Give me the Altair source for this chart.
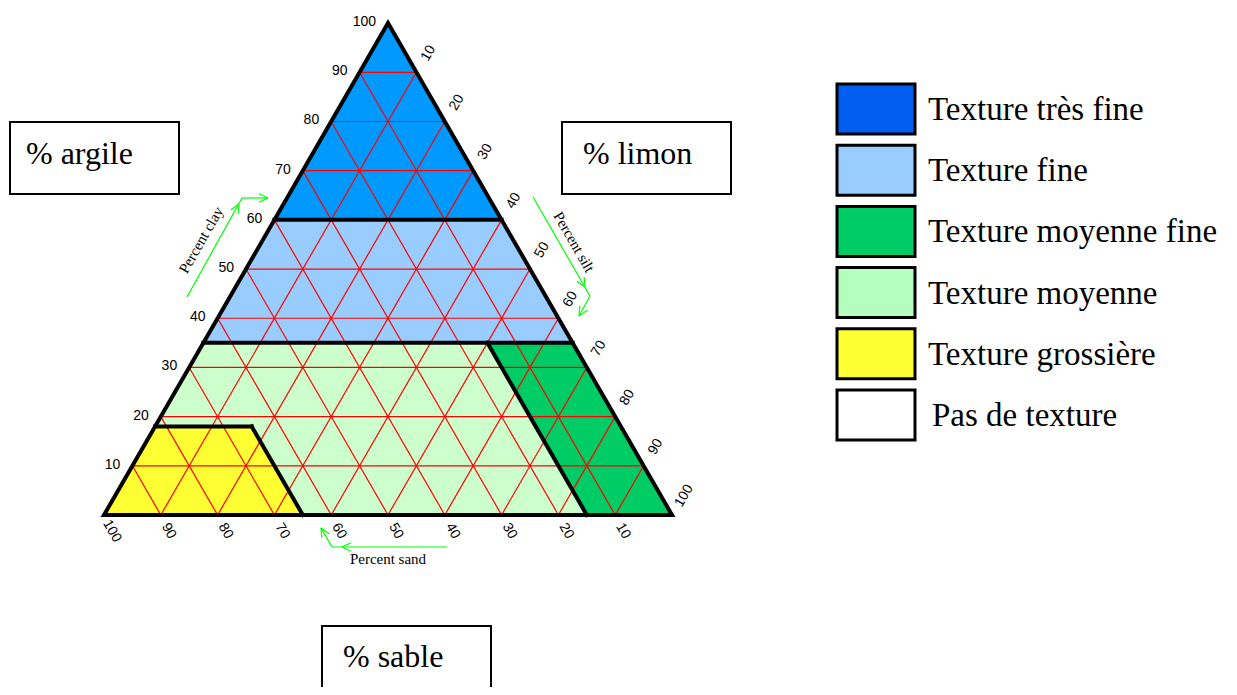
import math
import altair as alt
import pandas as pd

# ------------------------------------------------------------------ data
# texture classes (legend order) and their swatch colours
CLASS_LABELS = ["Texture très fine", "Texture fine", "Texture moyenne fine",
                "Texture moyenne", "Texture grossière", "Pas de texture"]
LEGEND_COLORS = ["#005EF0", "#99CCFF", "#00CC66", "#B4FFBE", "#FFFF33", "#FFFFFF"]

# regions in the triangle, vertices as (clay %, silt %), drawn in this order
REGION_NAMES = ["très fine", "fine", "moyenne", "moyenne fine", "grossière"]
REGION_COLORS = ["#0099FF", "#99CCFF", "#CCFFCC", "#00CC66", "#FFFF33"]
REGION_VERTICES = [
    [(60, 0), (100, 0), (60, 40)],
    [(35, 0), (60, 0), (60, 40), (35, 65)],
    [(0, 0), (35, 0), (35, 65), (0, 100)],
    [(35, 50), (35, 65), (0, 100), (0, 85)],
    [(0, 0), (18, 0), (18, 17), (0, 35)],
]
# thick class boundaries, (clay, silt) -> (clay, silt)
BOUNDARIES = [
    ((60, 0), (60, 40)),
    ((35, 0), (35, 65)),
    ((18, 0), (18, 17)),
    ((18, 17), (0, 35)),
    ((35, 50), (0, 85)),
]
# outline of the triangle, starting mid-bottom so that every corner is a join
OUTLINE = [(0, 50), (0, 100), (100, 0), (0, 0), (0, 50)]

GRID_STEPS = [10, 20, 30, 40, 50, 60, 70, 80, 90]
CLAY_TICKS = [10, 20, 30, 40, 50, 60, 70, 80, 90, 100]
SILT_TICKS = [10, 20, 30, 40, 50, 60, 70, 80, 90, 100]
SAND_TICKS = [100, 90, 80, 70, 60, 50, 40, 30, 20, 10]

AXIS_TITLES = ["Percent clay", "Percent silt", "Percent sand"]
BOX_LABELS = ["% argile", "% limon", "% sable"]

# ------------------------------------------------------------------ layout
S = 5.68                      # pixels per percent
LEFT_PX, BASE_PX = 104, 515   # page position of the 100 % sand corner
W, H = 1221, 679
SQ = math.sqrt(3) / 2
SERIF = "Liberation Serif, Times New Roman, serif"

X0 = -(LEFT_PX - 8) / S
X1 = X0 + W / S
Y1 = (BASE_PX - 8) / S
Y0 = Y1 - H / S


def tern(clay, silt):
    return silt + clay / 2.0, clay * SQ


def pg(px, py):
    """page pixel -> data units"""
    return (px - LEFT_PX) / S, (BASE_PX - py) / S


xs = alt.Scale(domain=[X0, X1], nice=False, zero=False)
ys = alt.Scale(domain=[Y0, Y1], nice=False, zero=False)


def X(f="x"):
    return alt.X(f"{f}:Q", scale=xs, axis=None)


def Y(f="y"):
    return alt.Y(f"{f}:Q", scale=ys, axis=None)


def vertical_spans(poly):
    pts = [tern(c, s) for c, s in poly]
    xv = sorted(set(round(p[0], 9) for p in pts))
    rows = []
    n = len(pts)
    for x in xv:
        yy = []
        for i in range(n):
            (x1, y1), (x2, y2) = pts[i], pts[(i + 1) % n]
            if min(x1, x2) - 1e-9 <= x <= max(x1, x2) + 1e-9:
                if abs(x2 - x1) < 1e-9:
                    yy += [y1, y2]
                else:
                    t = (x - x1) / (x2 - x1)
                    yy.append(y1 + t * (y2 - y1))
        rows.append(dict(x=x, lo=min(yy), hi=max(yy)))
    return pd.DataFrame(rows)


layers = []

# region fills
for name, col, verts in zip(REGION_NAMES, REGION_COLORS, REGION_VERTICES):
    df = vertical_spans(verts)
    layers.append(
        alt.Chart(df).mark_area(color=col, opacity=1, interpolate="linear")
        .encode(x=X("x"), y=alt.Y("hi:Q", scale=ys, axis=None, stack=None),
                y2="lo:Q")
    )

# red grid
seg = []
for k in GRID_STEPS:
    a, b = tern(k, 0), tern(k, 100 - k)            # clay = k
    seg.append(dict(x=a[0], y=a[1], x2=b[0], y2=b[1]))
    a, b = tern(0, k), tern(100 - k, k)            # silt = k
    seg.append(dict(x=a[0], y=a[1], x2=b[0], y2=b[1]))
    a, b = tern(0, 100 - k), tern(100 - k, 0)      # sand = k
    seg.append(dict(x=a[0], y=a[1], x2=b[0], y2=b[1]))
layers.append(
    alt.Chart(pd.DataFrame(seg)).mark_rule(color="#FF0000", strokeWidth=1.2)
    .encode(x=X("x"), y=Y("y"), x2="x2:Q", y2="y2:Q")
)

# class boundaries
bseg = []
for (c1, s1), (c2, s2) in BOUNDARIES:
    a, b = tern(c1, s1), tern(c2, s2)
    bseg.append(dict(x=a[0], y=a[1], x2=b[0], y2=b[1]))
layers.append(
    alt.Chart(pd.DataFrame(bseg)).mark_rule(color="black", strokeWidth=4, strokeCap="square")
    .encode(x=X("x"), y=Y("y"), x2="x2:Q", y2="y2:Q")
)

# triangle outline
odf = pd.DataFrame([dict(o=i, x=tern(c, s)[0], y=tern(c, s)[1]) for i, (c, s) in enumerate(OUTLINE)])
layers.append(
    alt.Chart(odf).mark_line(color="black", strokeWidth=4, strokeJoin="miter")
    .encode(x=X("x"), y=Y("y"), order="o:Q")
)

# tick labels
TICK_FONT = dict(font="Liberation Sans", fontSize=14, color="black")
rows = []
for k in CLAY_TICKS:
    x, y = tern(k, 0)
    rows.append(dict(x=x - 12 / S, y=y + 1 / S, t=str(k)))
layers.append(
    alt.Chart(pd.DataFrame(rows)).mark_text(align="right", baseline="middle", **TICK_FONT)
    .encode(x=X("x"), y=Y("y"), text="t:N")
)
rows = []
for k in SILT_TICKS:
    x, y = tern(100 - k, k)
    rows.append(dict(x=x + 12 / S, y=y + 19 / S, t=str(k)))
layers.append(
    alt.Chart(pd.DataFrame(rows)).mark_text(align="center", baseline="middle", angle=300, **TICK_FONT)
    .encode(x=X("x"), y=Y("y"), text="t:N")
)
rows = []
for k in SAND_TICKS:
    x, y = tern(0, 100 - k)
    rows.append(dict(x=x + 8 / S, y=y - 16 / S, t=str(k)))
layers.append(
    alt.Chart(pd.DataFrame(rows)).mark_text(align="center", baseline="middle", angle=60, **TICK_FONT)
    .encode(x=X("x"), y=Y("y"), text="t:N")
)

# green direction arrows (page pixel layout)
ARROWS = [
    dict(path=[(187, 297), (242, 198), (268, 198)],
         heads=[((239, 204), (0.5, -0.866)), ((268, 198), (1, 0))]),
    dict(path=[(533, 197), (590, 296), (579, 316)],
         heads=[((585, 287), (0.5, 0.866)), ((579, 316), (-0.5, 0.866))]),
    dict(path=[(447, 547), (332, 547), (321, 528)],
         heads=[((342, 547), (-1, 0)), ((321, 528), (-0.5, -0.866))]),
]
aseg = []
for a in ARROWS:
    p = a["path"]
    for (px1, py1), (px2, py2) in zip(p[:-1], p[1:]):
        u1, v1 = pg(px1, py1)
        u2, v2 = pg(px2, py2)
        aseg.append(dict(x=u1, y=v1, x2=u2, y2=v2))
    for (tx, ty), (dx, dy) in a["heads"]:
        for sgn in (-1, 1):
            ang = math.radians(25) * sgn
            bx, by = -dx, -dy
            rx = bx * math.cos(ang) - by * math.sin(ang)
            ry = bx * math.sin(ang) + by * math.cos(ang)
            u1, v1 = pg(tx, ty)
            u2, v2 = pg(tx + 10 * rx, ty + 10 * ry)
            aseg.append(dict(x=u1, y=v1, x2=u2, y2=v2))
layers.append(
    alt.Chart(pd.DataFrame(aseg)).mark_rule(color="#00FF00", strokeWidth=1.2)
    .encode(x=X("x"), y=Y("y"), x2="x2:Q", y2="y2:Q")
)

TITLE_POS = [(201, 240, 300), (574, 242, 60), (388, 559, 0)]
for label, (px, py, ang) in zip(AXIS_TITLES, TITLE_POS):
    u, v = pg(px, py)
    layers.append(
        alt.Chart(pd.DataFrame([dict(x=u, y=v, t=label)]))
        .mark_text(align="center", baseline="middle", angle=ang,
                   font=SERIF, fontSize=15, color="black")
        .encode(x=X("x"), y=Y("y"), text="t:N")
    )

# labelled boxes
BOX_RECTS = [(10, 122, 179, 194), (562, 122, 731, 194), (322, 626, 491, 720)]
BOX_TEXT_POS = [(26, 164), (583, 164), (343, 667)]
brows = []
big_text = []
for label, (l, t, r, b), (tx, ty) in zip(BOX_LABELS, BOX_RECTS, BOX_TEXT_POS):
    u1, v1 = pg(l, t)
    u2, v2 = pg(r, b)
    brows.append(dict(x=u1, y=v1, x2=u2, y2=v2))
    u, v = pg(tx, ty)
    big_text.append(dict(x=u, y=v, t=label, fs=32))
layers.append(
    alt.Chart(pd.DataFrame(brows)).mark_rect(fill="white", stroke="black", strokeWidth=2)
    .encode(x=X("x"), y=Y("y"), x2="x2:Q", y2="y2:Q")
)

# legend
SW_L, SW_R, SW_TOP, SW_H, SW_GAP = 837, 915, 84, 50, 61.2
lrows = []
for i, (label, col) in enumerate(zip(CLASS_LABELS, LEGEND_COLORS)):
    top = SW_TOP + i * SW_GAP
    u1, v1 = pg(SW_L, top)
    u2, v2 = pg(SW_R, top + SW_H)
    lrows.append(dict(x=u1, y=v1, x2=u2, y2=v2, c=col, k=label))
    u, v = pg(928 if i < 5 else 932, top + SW_H / 2 + 11)
    big_text.append(dict(x=u, y=v, t=label, fs=33))
layers.append(
    alt.Chart(pd.DataFrame(lrows)).mark_rect(stroke="black", strokeWidth=3)
    .encode(x=X("x"), y=Y("y"), x2="x2:Q", y2="y2:Q",
            fill=alt.Fill("c:N", scale=None, legend=None))
)
layers.append(
    alt.Chart(pd.DataFrame(big_text)).mark_text(align="left", baseline="alphabetic",
                                                 font=SERIF, color="black")
    .encode(x=X("x"), y=Y("y"), text="t:N",
            size=alt.Size("fs:Q", scale=None, legend=None))
)

chart = (
    alt.layer(*layers)
    .properties(width=W, height=H, padding=0, autosize=alt.AutoSizeParams(type="none"),
                background="white")
    .configure_view(stroke=None)
)

chart.save("out.html", embed_options={"renderer": "svg", "actions": False})
